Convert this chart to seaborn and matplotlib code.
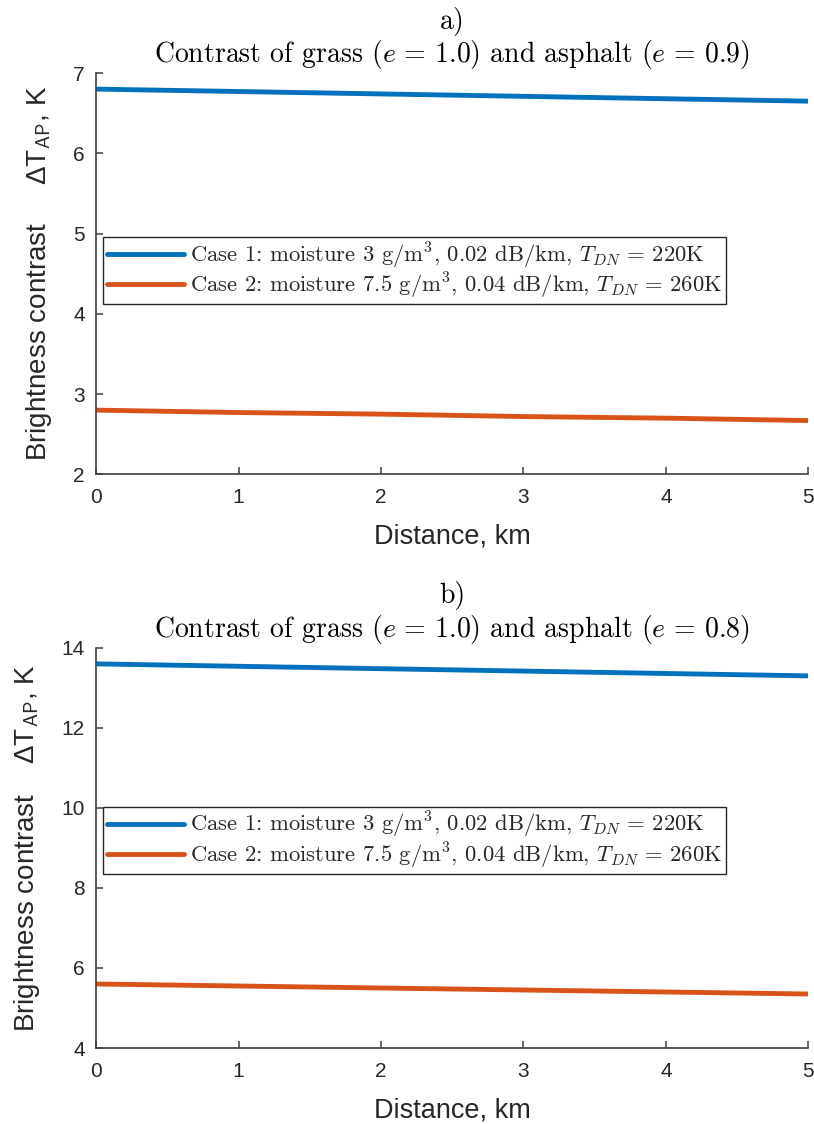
import numpy as np
import pandas as pd
import seaborn as sns
import matplotlib
matplotlib.use("Agg")
import matplotlib.pyplot as plt

# distance along the path, km
distance = [0, 1, 2, 3, 4, 5]

# brightness contrast, K  (panel a: asphalt e = 0.9)
a_case1 = [6.80, 6.77, 6.74, 6.71, 6.68, 6.65]
a_case2 = [2.80, 2.77, 2.75, 2.72, 2.70, 2.67]

# brightness contrast, K  (panel b: asphalt e = 0.8)
b_case1 = [13.60, 13.54, 13.48, 13.42, 13.36, 13.30]
b_case2 = [5.60, 5.55, 5.50, 5.45, 5.40, 5.35]

case_labels = [
    r"Case 1: moisture 3 g/m$^3$, 0.02 dB/km, $T_{DN}\,=\,220$K",
    r"Case 2: moisture 7.5 g/m$^3$, 0.04 dB/km, $T_{DN}\,=\,260$K",
]
titles = [
    "a)\n" + r"Contrast of grass ($e\,=\,1.0$) and asphalt ($e\,=\,0.9$)",
    "b)\n" + r"Contrast of grass ($e\,=\,1.0$) and asphalt ($e\,=\,0.8$)",
]
yticks_a = [2, 3, 4, 5, 6, 7]
yticks_b = [4, 6, 8, 10, 12, 14]

sns.set_style("ticks")
plt.rcParams["font.family"] = ["Liberation Sans", "DejaVu Sans"]
plt.rcParams["mathtext.fontset"] = "cm"
plt.rcParams["axes.edgecolor"] = "#404040"
plt.rcParams["xtick.color"] = "#404040"
plt.rcParams["ytick.color"] = "#404040"
plt.rcParams["xtick.labelcolor"] = "#262626"
plt.rcParams["ytick.labelcolor"] = "#262626"
plt.rcParams["xtick.direction"] = "in"
plt.rcParams["ytick.direction"] = "in"

palette = ["#0072BD", "#D95319"]


def make_frame(v1, v2):
    return pd.DataFrame({
        "distance": distance * 2,
        "contrast": v1 + v2,
        "case": [case_labels[0]] * len(v1) + [case_labels[1]] * len(v2),
    })


fig = plt.figure(figsize=(8.14, 11.24), dpi=100)
ax_a = fig.add_axes([0.118, 0.578, 0.875, 0.357])
ax_b = fig.add_axes([0.118, 0.0676, 0.875, 0.356])

panels = [
    (ax_a, make_frame(a_case1, a_case2), titles[0], (2, 7), yticks_a, 0.591,
     "Brightness contrast     " + r"ΔT$_{\mathsf{AP}}$, K"),
    (ax_b, make_frame(b_case1, b_case2), titles[1], (4, 14), yticks_b, 0.6025,
     "Brightness contrast    " + r"ΔT$_{\mathsf{AP}}$, K"),
]

for ax, df, title, ylim, yticks, leg_y, ylabel in panels:
    sns.lineplot(data=df, x="distance", y="contrast", hue="case",
                 palette=palette, linewidth=3.5, ax=ax, legend=True)
    ax.set_xlim(0, 5)
    ax.set_ylim(*ylim)
    ax.set_yticks(yticks)
    ax.set_xticks(range(6))
    ax.tick_params(labelsize=15, length=5, width=1.1)
    ax.tick_params(axis="x", pad=10)
    ax.tick_params(axis="y", pad=8)
    for s in ["top", "right"]:
        ax.spines[s].set_visible(False)
    for s in ["left", "bottom"]:
        ax.spines[s].set_linewidth(1.2)
    ax.set_xlabel("Distance, km", fontsize=19.5, color="#262626", labelpad=12)
    ax.set_ylabel(ylabel, fontsize=20, color="#262626", labelpad=14)
    ax.set_title(title, family="cmr10", fontsize=20, color="black",
                 linespacing=1.1, pad=8)
    handles, labels = ax.get_legend_handles_labels()
    leg = ax.legend(handles, labels, loc="upper left",
                    bbox_to_anchor=(0.01, leg_y),
                    prop={"family": "cmr10", "size": 16.3},
                    frameon=True, fancybox=False, framealpha=1,
                    edgecolor="#262626", borderpad=0.15, labelspacing=0.0,
                    handlelength=3.4, handletextpad=0.3, borderaxespad=0)
    leg.get_frame().set_linewidth(1.0)
    for line in leg.get_lines():
        line.set_linewidth(3.5)

fig.savefig("out.png", dpi=100)
